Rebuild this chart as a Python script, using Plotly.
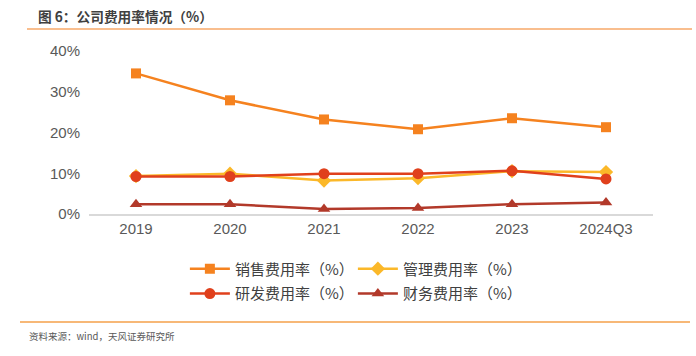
import plotly.graph_objects as go

categories = ["2019", "2020", "2021", "2022", "2023", "2024Q3"]
sales_rate = [34.5, 27.9, 23.2, 20.8, 23.5, 21.3]
admin_rate = [9.3, 9.9, 8.2, 8.8, 10.5, 10.3]
rd_rate = [9.2, 9.2, 9.9, 9.9, 10.6, 8.6]
fin_rate = [2.4, 2.4, 1.2, 1.5, 2.4, 2.8]
y_ticks = [0, 10, 20, 30, 40]
y_tick_labels = ["0%", "10%", "20%", "30%", "40%"]

series = [
    ("销售费用率（%）", sales_rate, "#F5821F", "square", 10, "legend"),
    ("管理费用率（%）", admin_rate, "#FBB829", "diamond", 11, "legend"),
    ("研发费用率（%）", rd_rate, "#E0401C", "circle", 11, "legend2"),
    ("财务费用率（%）", fin_rate, "#B2392A", "triangle-up", 11, "legend2"),
]

fig = go.Figure()
for name, vals, color, sym, size, leg in series:
    fig.add_trace(go.Scatter(
        x=categories, y=vals, name=name, mode="lines+markers",
        line=dict(color=color, width=2.5),
        marker=dict(symbol=sym, size=size, color=color),
        legend=leg,
    ))

legend_common = dict(
    orientation="h", xanchor="left", yanchor="middle",
    font=dict(family="Noto Sans CJK SC", size=15, color="#404040"),
    bgcolor="rgba(0,0,0,0)", entrywidth=113, itemwidth=40,
    tracegroupgap=0,
)

fig.update_layout(
    width=696, height=356,
    margin=dict(l=89, r=43, t=51, b=142),
    plot_bgcolor="white", paper_bgcolor="white",
    font=dict(family="Liberation Sans, Arial", color="#595959"),
    xaxis=dict(
        type="category", range=[-0.5, 5.5],
        showline=True, linecolor="#D9D9D9", linewidth=1.5,
        showgrid=False, ticks="", zeroline=False,
        tickfont=dict(size=15, color="#595959"),
    ),
    yaxis=dict(
        range=[0, 40], tickvals=y_ticks, ticktext=y_tick_labels,
        showgrid=False, zeroline=False, showline=False, ticks="",
        tickfont=dict(size=15, color="#595959"), ticklabelstandoff=8,
    ),
    legend=dict(x=0.17, y=-0.337, **legend_common),
    legend2=dict(x=0.17, y=-0.49, **legend_common),
    showlegend=True,
)


def px_x(px):
    return (px - 89) / (696 - 89 - 43)


def px_y(py):
    return (356 - 142 - py) / (356 - 51 - 142)


fig.add_annotation(
    x=px_x(36), y=px_y(16), xref="paper", yref="paper",
    text="<b>图 6：公司费用率情况（%）</b>",
    showarrow=False, xanchor="left", yanchor="middle",
    font=dict(family="Noto Sans CJK SC", size=13.7, color="#404040"),
)
fig.add_shape(type="line", xref="paper", yref="paper",
              x0=px_x(27), x1=px_x(692), y0=px_y(29), y1=px_y(29),
              line=dict(color="#F9BE8E", width=2))
fig.add_shape(type="line", xref="paper", yref="paper",
              x0=px_x(20), x1=px_x(690), y0=px_y(322), y1=px_y(322),
              line=dict(color="#F5A04A", width=1.5))
fig.add_annotation(
    x=px_x(27), y=px_y(336), xref="paper", yref="paper",
    text="资料来源：wind，天风证券研究所", showarrow=False,
    xanchor="left", yanchor="middle",
    font=dict(family="Noto Sans CJK SC", size=9.5, color="#595959"),
)

fig.write_html(
    "out.html",
    config={"displayModeBar": False},
    post_script="document.body.style.margin='0';document.body.style.padding='0';",
)
